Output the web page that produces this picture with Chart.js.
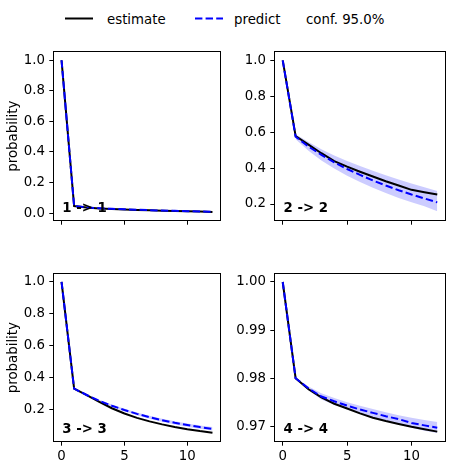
<!DOCTYPE html>
<html>
<head>
<meta charset="utf-8">
<script src="https://cdn.jsdelivr.net/npm/chart.js@4.4.1/dist/chart.umd.min.js"></script>
<style>
  body { margin: 0; background: #fff; width: 455px; height: 469px; position: relative; overflow: hidden; font-family: "DejaVu Sans", sans-serif; }
  canvas { position: absolute; }
  .leg { position: absolute; font-size: 13.33px; line-height: 13.33px; color: #000; white-space: nowrap; }
  svg { position: absolute; left: 0; top: 0; }
</style>
</head>
<body>
<svg width="455" height="40">
  <line x1="65" y1="18.5" x2="93" y2="18.5" stroke="#000" stroke-width="2"/>
  <line x1="195" y1="18.5" x2="223" y2="18.5" stroke="#0000ff" stroke-width="2" stroke-dasharray="7.4 3.2"/>
</svg>
<span class="leg" id="leg0" style="left:107px;top:13px"></span>
<span class="leg" id="leg1" style="left:234px;top:13px"></span>
<span class="leg" id="leg2" style="left:306px;top:13px"></span>

<canvas id="p11"></canvas>
<canvas id="p22"></canvas>
<canvas id="p33"></canvas>
<canvas id="p44"></canvas>

<script>
// time steps and tick labels
const steps = [0, 1, 2, 3, 4, 5, 6, 7, 8, 9, 10, 11, 12];
const xTicks = [0, 5, 10];
const seriesNames = ['estimate', 'predict', 'conf. 95.0%'];
const panelNames = ['1 -> 1', '2 -> 2', '3 -> 3', '4 -> 4'];

// 1 -> 1
const est11 = [1.0, 0.046, 0.036, 0.031, 0.027, 0.024, 0.021, 0.018, 0.016, 0.014, 0.012, 0.010, 0.008];
const pred11 = [1.0, 0.046, 0.037, 0.032, 0.028, 0.025, 0.022, 0.019, 0.017, 0.015, 0.013, 0.011, 0.009];
const up11 = [null, 0.047, 0.039, 0.034, 0.030, 0.027, 0.024, 0.021, 0.019, 0.017, 0.015, 0.013, 0.011];
const lo11 = [null, 0.045, 0.035, 0.030, 0.026, 0.023, 0.020, 0.017, 0.015, 0.013, 0.011, 0.009, 0.007];
const yTicks11 = [0.0, 0.2, 0.4, 0.6, 0.8, 1.0];

// 2 -> 2
const est22 = [1.0, 0.579, 0.531, 0.483, 0.439, 0.408, 0.380, 0.353, 0.327, 0.303, 0.279, 0.266, 0.253];
const pred22 = [1.0, 0.575, 0.520, 0.474, 0.432, 0.395, 0.362, 0.331, 0.303, 0.277, 0.253, 0.231, 0.209];
const up22 = [null, 0.588, 0.545, 0.505, 0.470, 0.440, 0.412, 0.385, 0.360, 0.336, 0.314, 0.293, 0.273];
const lo22 = [null, 0.561, 0.497, 0.443, 0.398, 0.358, 0.322, 0.290, 0.261, 0.234, 0.210, 0.188, 0.160];
const yTicks22 = [0.2, 0.4, 0.6, 0.8, 1.0];

// 3 -> 3
const est33 = [1.0, 0.331, 0.290, 0.248, 0.208, 0.175, 0.148, 0.126, 0.107, 0.091, 0.077, 0.065, 0.055];
const pred33 = [1.0, 0.331, 0.291, 0.255, 0.224, 0.197, 0.173, 0.152, 0.133, 0.117, 0.103, 0.090, 0.079];
const up33 = [null, 0.334, 0.296, 0.262, 0.232, 0.205, 0.182, 0.161, 0.143, 0.127, 0.113, 0.100, 0.090];
const lo33 = [null, 0.328, 0.286, 0.248, 0.216, 0.189, 0.164, 0.143, 0.123, 0.107, 0.093, 0.080, 0.068];
const yTicks33 = [0.2, 0.4, 0.6, 0.8, 1.0];

// 4 -> 4
const est44 = [1.0, 0.9800, 0.9777, 0.9760, 0.9747, 0.9737, 0.9727, 0.9718, 0.9711, 0.9705, 0.9699, 0.9694, 0.9689];
const pred44 = [1.0, 0.9800, 0.9779, 0.9762, 0.9752, 0.9743, 0.9735, 0.9728, 0.9721, 0.9715, 0.9707, 0.9702, 0.9697];
const up44 = [null, 0.9801, 0.9783, 0.9769, 0.9759, 0.9750, 0.9743, 0.9736, 0.9729, 0.9723, 0.9718, 0.9713, 0.9709];
const lo44 = [null, 0.9799, 0.9775, 0.9756, 0.9745, 0.9736, 0.9727, 0.9719, 0.9712, 0.9705, 0.9697, 0.9691, 0.9686];
const yTicks44 = [0.97, 0.98, 0.99, 1.00];

const FONT = '"DejaVu Sans", sans-serif';
const FS = 13.33;

seriesNames.forEach((n, i) => { document.getElementById('leg' + i).textContent = n; });

// box around the plot area, like matplotlib spines
const framePlugin = {
  id: 'frame',
  afterDatasetsDraw(chart) {
    const {ctx, chartArea: a} = chart;
    ctx.save();
    ctx.strokeStyle = '#000';
    ctx.lineWidth = 1;
    const l = Math.round(a.left) - 0.5, t = Math.round(a.top) - 0.5;
    const r = Math.round(a.right) + 0.5, b = Math.round(a.bottom) + 0.5;
    ctx.strokeRect(l, t, r - l, b - t);
    ctx.restore();
  }
};

const namePlugin = {
  id: 'panelName',
  afterDraw(chart, args, opts) {
    const {ctx, chartArea: a} = chart;
    ctx.save();
    ctx.font = 'bold ' + FS + 'px ' + FONT;
    ctx.fillStyle = '#000';
    ctx.textBaseline = 'alphabetic';
    ctx.textAlign = 'left';
    ctx.fillText(opts.text, a.left + 0.05 * (a.right - a.left), a.bottom - 0.05 * (a.bottom - a.top));
    ctx.restore();
  }
};

function pts(arr) {
    return steps.map((x, i) => ({x: x, y: arr[i]}));
}

function makePanel(p) {
    const cv = document.getElementById(p.id);
    cv.width = p.box[2];
    cv.height = p.box[3];
    cv.style.left = p.box[0] + 'px';
    cv.style.top = p.box[1] + 'px';
    cv.style.width = p.box[2] + 'px';
    cv.style.height = p.box[3] + 'px';

    const tickGrid = {drawOnChartArea: false, drawTicks: true, tickLength: 4.7, color: '#000', lineWidth: 1};

    return new Chart(cv, {
        type: 'line',
        data: {
            datasets: [
                {label: seriesNames[1], data: pts(p.pred), borderColor: '#0000ff', borderWidth: 2,
                 borderDash: [7.4, 3.2], pointRadius: 0, fill: false, tension: 0},
                {label: seriesNames[0], data: pts(p.est), borderColor: '#000000', borderWidth: 2,
                 pointRadius: 0, fill: false, tension: 0},
                {label: seriesNames[2], data: pts(p.up), borderWidth: 0, borderColor: 'rgba(0,0,0,0)',
                 backgroundColor: 'rgba(0,0,255,0.2)', pointRadius: 0, fill: '+1', tension: 0},
                {label: 'lower', data: pts(p.lo), borderWidth: 0, borderColor: 'rgba(0,0,0,0)',
                 pointRadius: 0, fill: false, tension: 0}
            ]
        },
        options: {
            responsive: false,
            animation: false,
            events: [],
            layout: {padding: {top: p.pad[0], right: p.pad[1], bottom: 0, left: 0}},
            plugins: {
                legend: {display: false},
                tooltip: {enabled: false},
                panelName: {text: p.name}
            },
            scales: {
                x: {
                    type: 'linear', min: -0.6, max: 12.6,
                    afterBuildTicks: s => { s.ticks = xTicks.map(v => ({value: v})); },
                    afterFit: s => { s.height = p.xh; },
                    grid: tickGrid,
                    border: {display: false},
                    ticks: {color: '#000', padding: 3, maxRotation: 0, font: {family: FONT, size: FS},
                            callback: v => p.showX ? String(v) : ''}
                },
                y: {
                    type: 'linear', min: p.ymin, max: p.ymax,
                    afterBuildTicks: s => { s.ticks = p.yTicks.map(v => ({value: v})); },
                    afterFit: s => { s.width = p.yw; },
                    grid: tickGrid,
                    border: {display: false},
                    title: {display: p.showTitle, text: 'probability', color: '#000',
                            font: {family: FONT, size: FS}, padding: {top: 6, bottom: 0}},
                    ticks: {color: '#000', padding: 4.3, font: {family: FONT, size: FS},
                            callback: v => v.toFixed(p.dec)}
                }
            }
        },
        plugins: [framePlugin, namePlugin]
    });
}

makePanel({id: 'p11', box: [0, 40, 228, 200], pad: [10, 8], yw: 54, xh: 20, showX: false, showTitle: true,
           est: est11, pred: pred11, up: up11, lo: lo11, yTicks: yTicks11, ymin: -0.045, ymax: 1.052, dec: 1, name: panelNames[0]});
makePanel({id: 'p22', box: [228, 40, 227, 200], pad: [10, 10], yw: 47, xh: 20, showX: false, showTitle: false,
           est: est22, pred: pred22, up: up22, lo: lo22, yTicks: yTicks22, ymin: 0.111, ymax: 1.045, dec: 1, name: panelNames[1]});
makePanel({id: 'p33', box: [0, 262, 228, 207], pad: [10, 8], yw: 54, xh: 28, showX: true, showTitle: true,
           est: est33, pred: pred33, up: up33, lo: lo33, yTicks: yTicks33, ymin: 0.003, ymax: 1.047, dec: 1, name: panelNames[2]});
makePanel({id: 'p44', box: [228, 262, 227, 207], pad: [10, 10], yw: 47, xh: 28, showX: true, showTitle: false,
           est: est44, pred: pred44, up: up44, lo: lo44, yTicks: yTicks44, ymin: 0.96695, ymax: 1.0016, dec: 2, name: panelNames[3]});
</script>
</body>
</html>
